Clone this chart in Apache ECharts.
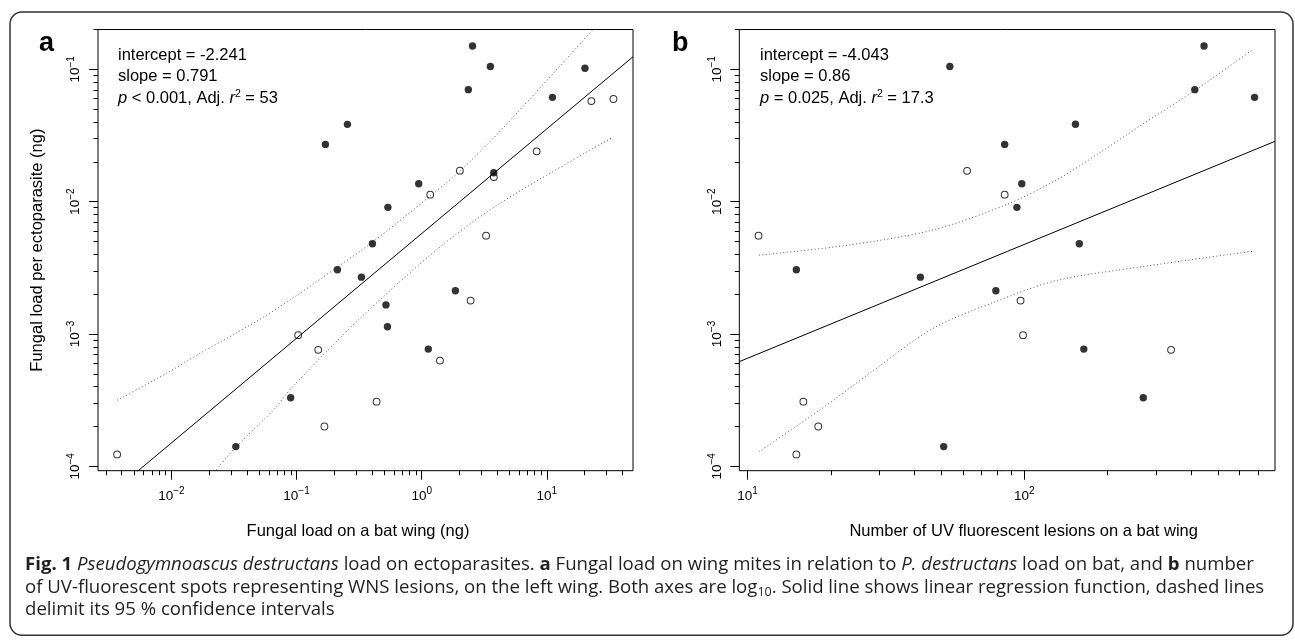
<!DOCTYPE html>
<html><head><meta charset="utf-8">
<script src="https://cdn.jsdelivr.net/npm/echarts@6/dist/echarts.min.js"></script>
<style>html,body{margin:0;padding:0;background:#fff}#c{width:1295px;height:642px}</style>
</head><body><div id="c"></div>
<script>
// ---------- data ----------
// panel a: x = fungal load on bat wing (ng), y = fungal load per ectoparasite (ng)
const aFilled = [[2.55,0.150],[3.54,0.105],[2.36,0.0702],[20.2,0.102],[11.1,0.0614],[0.170,0.0271],[0.255,0.0384],
  [0.947,0.01367],[0.537,0.00906],[3.77,0.01656],[0.404,0.00481],[0.212,0.00306],[0.33,0.00269],[1.86,0.00212],
  [0.518,0.00166],[0.533,0.001135],[1.13,0.000769],[0.0897,0.00033],[0.0327,0.000141]];
const aOpen = [[22.7,0.0576],[34.1,0.0597],[8.3,0.024],[2.02,0.01714],[3.77,0.01535],[1.17,0.0113],[3.27,0.00553],
  [2.46,0.00179],[0.103,0.00098],[0.149,0.00076],[1.40,0.00063],[0.436,0.000308],[0.167,0.0002],[0.00368,0.000123]];
const aUpper = [[0.00368,3.16e-4],[0.00916,5.05e-4],[0.0169,7.14e-4],[0.0312,9.89e-4],[0.0577,1.39e-3],[0.1064,2.03e-3],
  [0.196,3.04e-3],[0.395,4.86e-3],[1.159,0.01096],[2.075,0.01742],[4.467,0.0360],[23.55,0.2014]];
const aLower = [[0.0228,9.42e-5],[0.0330,1.41e-4],[0.0652,2.66e-4],[0.0908,3.90e-4],[0.321,1.31e-3],[1.413,4.57e-3],
  [4.467,0.01005],[34.1,0.0309]];
const aIntercept = -2.241, aSlope = 0.791;
const aStats = ['intercept = -2.241', 'slope = 0.791', '{i|p} < 0.001, Adj. {i|r}{s|2} = 53'];

// panel b: x = number of UV fluorescent lesions
const bFilled = [[446,0.150],[53.8,0.105],[413,0.0702],[679,0.0614],[153,0.0385],[84.9,0.0271],[97.9,0.01367],
  [94,0.00906],[158,0.00481],[15,0.00306],[42.1,0.00269],[78.9,0.00212],[164,0.000769],[269,0.00033],[51.1,0.000141]];
const bOpen = [[62.1,0.0171],[84.9,0.0113],[10.95,0.00553],[96.9,0.00179],[98.9,0.00098],[339,0.00076],
  [15.9,0.000308],[18,0.0002],[15,0.000123]];
const bUpper = [[10.99,3.94e-3],[23.2,4.70e-3],[46.6,6.10e-3],[87.1,9.59e-3],[132.1,0.01479],[187.1,0.0234],
  [264.9,0.0380],[413.0,0.0692],[665.3,0.140]];
const bLower = [[10.99,1.29e-4],[18.2,2.66e-4],[28.6,5.33e-4],[46.6,1.10e-3],[78.3,1.75e-3],[132.1,2.55e-3],
  [264.9,3.22e-3],[677.6,4.24e-3]];
const bIntercept = -4.043, bSlope = 0.86;
const bStats = ['intercept = -4.043', 'slope = 0.86', '{i|p} = 0.025, Adj. {i|r}{s|2} = 17.3'];

// axes ranges and ticks
const yRange = [9.27e-5, 0.2];
const xaRange = [0.002588, 48.87];
const xbRange = [9.33, 805];
const yMajor = [0.0001, 0.001, 0.01, 0.1];
const yMinor = [0.0002,0.0003,0.0004,0.0005,0.0006,0.0007,0.0008,0.0009,
  0.002,0.003,0.004,0.005,0.006,0.007,0.008,0.009,0.02,0.03,0.04,0.05,0.06,0.07,0.08,0.09,0.2];
const xaMajor = [0.01, 0.1, 1, 10];
const xaMinor = [0.003,0.004,0.005,0.006,0.007,0.008,0.009,0.02,0.03,0.04,0.05,0.06,0.07,0.08,0.09,
  0.2,0.3,0.4,0.5,0.6,0.7,0.8,0.9,2,3,4,5,6,7,8,9,20,30,40];
const xbMajor = [10, 100];
const xbMinor = [20,30,40,50,60,70,80,90,200,300,400,500,600,700];

const xaTitle = 'Fungal load on a bat wing (ng)';
const xbTitle = 'Number of UV fluorescent lesions on a bat wing';
const yTitle = 'Fungal load per ectoparasite (ng)';
const captionLines = [
  '{b|Fig. 1} {i|Pseudogymnoascus destructans} load on ectoparasites. {b|a} Fungal load on wing mites in relation to {i|P. destructans} load on bat, and {b|b} number',
  'of UV-fluorescent spots representing WNS lesions, on the left wing. Both axes are log{sub|10}. Solid line shows linear regression function, dashed lines',
  'delimit its 95 % confidence intervals'
];

// ---------- chart ----------
const FF = '"Liberation Sans", Arial, Helvetica, sans-serif';
const CF = '"Open Sans", "Noto Sans", sans-serif';
const CFS = 18.6;
function powLabel(v) {
  const e = Math.round(Math.log10(v));
  return '{b|10}{s|' + (e < 0 ? '\u2212' : '') + Math.abs(e) + '}';
}
const labelRich = {
  b: {fontSize: 13.5, fontFamily: FF, color: '#000', lineHeight: 19, verticalAlign: 'middle'},
  s: {fontSize: 10, fontFamily: FF, color: '#000', lineHeight: 10, verticalAlign: 'top'}
};
function fitLine(b0, b1, r) {
  return [[r[0], Math.pow(10, b0 + b1 * Math.log10(r[0]))], [r[1], Math.pow(10, b0 + b1 * Math.log10(r[1]))]];
}
function majorAxis(grid, range, ticks, isY, extra) {
  return Object.assign({
    gridIndex: grid, type: 'log', logBase: 10, min: range[0], max: range[1],
    position: isY ? 'left' : 'bottom', offset: 0,
    axisLine: {show: false},
    axisTick: {show: true, length: 9, customValues: ticks, lineStyle: {color: '#000', width: 1}},
    axisLabel: {show: true, customValues: ticks, formatter: powLabel, rich: labelRich,
      margin: isY ? 13 : 16, rotate: isY ? 90 : 0},
    splitLine: {show: false}, minorTick: {show: false}, minorSplitLine: {show: false}
  }, extra || {});
}
function minorAxis(grid, range, ticks, isY) {
  return {
    gridIndex: grid, type: 'log', logBase: 10, min: range[0], max: range[1],
    position: isY ? 'left' : 'bottom', offset: 0,
    axisLine: {show: false},
    axisTick: {show: true, length: 4.5, customValues: ticks, lineStyle: {color: '#000', width: 1}},
    axisLabel: {show: false}, splitLine: {show: false}
  };
}
const nameStyle = {fontSize: 16.5, fontFamily: FF, color: '#000'};
function scatterSeries(xi, yi, data, open) {
  return {type: 'scatter', xAxisIndex: xi, yAxisIndex: yi, data: data, symbol: 'circle',
    symbolSize: open ? 6.8 : 7.4, z: 5, silent: true,
    itemStyle: open ? {color: 'rgba(255,255,255,0)', borderColor: '#000', borderWidth: 1} : {color: '#000'}};
}
function lineSeries(xi, yi, data, dotted) {
  return {type: 'line', xAxisIndex: xi, yAxisIndex: yi, data: data, symbol: 'none', showSymbol: false,
    smooth: dotted ? 0.3 : false, clip: true, silent: true, z: 3,
    lineStyle: dotted ? {color: '#555', width: 1, type: [1, 2.5]} : {color: '#000', width: 1}};
}
function statTexts(left, lines) {
  const ys = [55, 76.8, 98.5];
  return lines.map((t, i) => ({
    type: 'text', left: left, top: ys[i] - 10, silent: true,
    style: {text: t, fontSize: 16.5, fontFamily: FF, fill: '#000', lineHeight: 20,
      rich: {
        i: {fontSize: 16.5, fontFamily: FF, fontStyle: 'italic', fill: '#000', lineHeight: 20},
        s: {fontSize: 10.5, fontFamily: FF, fill: '#000', lineHeight: 10, verticalAlign: 'top'}
      }}
  }));
}
const capRich = {
  b: {fontSize: CFS, fontFamily: CF, fontWeight: 'bold', fill: '#231f20', lineHeight: 22},
  i: {fontSize: CFS, fontFamily: CF, fontStyle: 'italic', fill: '#231f20', lineHeight: 22},
  sub: {fontSize: 12.5, fontFamily: CF, fill: '#231f20', lineHeight: 12, verticalAlign: 'bottom'}
};
const capYs = [565, 588, 610];

const chart = echarts.init(document.getElementById('c'), null, {renderer: 'canvas'});
chart.setOption({
  animation: false,
  backgroundColor: '#fff',
  grid: [
    {left: 98, top: 29.5, width: 535, height: 441.2, show: true, borderColor: '#000', borderWidth: 1, containLabel: false, outerBoundsMode: 'none'},
    {left: 739.3, top: 29.5, width: 535.7, height: 441.2, show: true, borderColor: '#000', borderWidth: 1, containLabel: false, outerBoundsMode: 'none'}
  ],
  xAxis: [
    majorAxis(0, xaRange, xaMajor, false, {name: xaTitle, nameLocation: 'middle', nameGap: 52,
      nameTextStyle: Object.assign({padding: [0, 15, 0, 0]}, nameStyle)}),
    minorAxis(0, xaRange, xaMinor, false),
    majorAxis(1, xbRange, xbMajor, false, {name: xbTitle, nameLocation: 'middle', nameGap: 52,
      nameTextStyle: Object.assign({padding: [0, 0, 0, 33]}, nameStyle)}),
    minorAxis(1, xbRange, xbMinor, false)
  ],
  yAxis: [
    majorAxis(0, yRange, yMajor, true, {name: yTitle, nameLocation: 'middle', nameGap: 52, nameTextStyle: nameStyle}),
    minorAxis(0, yRange, yMinor, true),
    majorAxis(1, yRange, yMajor, true),
    minorAxis(1, yRange, yMinor, true)
  ],
  series: [
    lineSeries(0, 0, fitLine(aIntercept, aSlope, xaRange), false),
    lineSeries(0, 0, aUpper, true),
    lineSeries(0, 0, aLower, true),
    scatterSeries(0, 0, aFilled, false),
    scatterSeries(0, 0, aOpen, true),
    lineSeries(2, 2, fitLine(bIntercept, bSlope, xbRange), false),
    lineSeries(2, 2, bUpper, true),
    lineSeries(2, 2, bLower, true),
    scatterSeries(2, 2, bFilled, false),
    scatterSeries(2, 2, bOpen, true)
  ],
  graphic: [
    {type: 'rect', silent: true, shape: {x: 10, y: 12, width: 1283, height: 623.3, r: 12},
      style: {fill: 'none', stroke: '#333', lineWidth: 1.5}},
    {type: 'text', left: 39, top: 30, silent: true, style: {text: 'a', fontSize: 27, fontWeight: 'bold', fontFamily: FF, fill: '#000'}},
    {type: 'text', left: 672, top: 30, silent: true, style: {text: 'b', fontSize: 27, fontWeight: 'bold', fontFamily: FF, fill: '#000'}}
  ].concat(statTexts(118, aStats)).concat(statTexts(760, bStats)).concat(
    captionLines.map((t, i) => ({
      type: 'text', left: 25, top: capYs[i] - 11, silent: true,
      style: {text: t, fontSize: CFS, fontFamily: CF, fill: '#231f20', lineHeight: 22, rich: capRich}
    }))
  )
});
</script></body></html>
